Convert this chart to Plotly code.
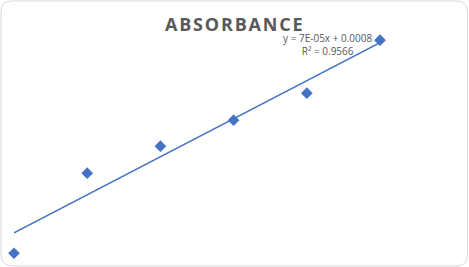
import numpy as np
import plotly.graph_objects as go

# Data
concentration = [0, 50, 100, 150, 200, 250]
absorbance = [-0.0011, 0.0063, 0.0088, 0.0112, 0.0137, 0.0186]
title_text = "ABSORBANCE"
equation_text = "y = 7E-05x + 0.0008<br>R² = 0.9566"

W, H = 469, 267
L, T = 14, 25
PW, PH = 366, 237.6
R = W - L - PW
B = H - T - PH

slope, intercept = np.polyfit(concentration, absorbance, 1)
x_fit = [min(concentration), max(concentration)]
y_fit = [slope * x + intercept for x in x_fit]

fig = go.Figure()
fig.add_trace(go.Scatter(x=x_fit, y=y_fit, mode="lines",
                         line=dict(color="#4472C4", width=1.5),
                         hoverinfo="skip", showlegend=False))
fig.add_trace(go.Scatter(x=concentration, y=absorbance, mode="markers",
                         marker=dict(symbol="diamond", size=9, color="#4472C4"),
                         cliponaxis=False, showlegend=False))

# rounded border in paper coords
def px(x):
    return (x - L) / PW
def py(y):
    return (T + PH - y) / PH
x0, y0, x1, y1, r = 1, 1, 467.5, 265.5, 11
path = (f"M {px(x0+r)},{py(y0)} L {px(x1-r)},{py(y0)} "
        f"Q {px(x1)},{py(y0)} {px(x1)},{py(y0+r)} "
        f"L {px(x1)},{py(y1-r)} Q {px(x1)},{py(y1)} {px(x1-r)},{py(y1)} "
        f"L {px(x0+r)},{py(y1)} Q {px(x0)},{py(y1)} {px(x0)},{py(y1-r)} "
        f"L {px(x0)},{py(y0+r)} Q {px(x0)},{py(y0)} {px(x0+r)},{py(y0)} Z")

spaced_title = "\u200a".join(title_text)

fig.update_layout(
    width=W, height=H,
    margin=dict(l=L, r=R, t=T, b=B),
    paper_bgcolor="white", plot_bgcolor="white",
    xaxis=dict(range=[0, 250], visible=False, fixedrange=True),
    yaxis=dict(range=[-0.002, 0.02], visible=False, fixedrange=True),
    shapes=[dict(type="path", xref="paper", yref="paper", path=path,
                 line=dict(color="#D9D9D9", width=1), layer="below")],
    annotations=[
        dict(text="<b>" + spaced_title + "</b>", xref="paper", yref="paper",
             x=px(234), y=py(24), xanchor="center", yanchor="middle",
             showarrow=False,
             font=dict(family="Open Sans", size=18, color="#595959")),
        dict(text=equation_text, xref="paper", yref="paper",
             x=px(327), y=py(44), xanchor="center", yanchor="middle",
             align="center", showarrow=False,
             font=dict(family="Open Sans", size=10, color="#595959")),
    ],
    hovermode=False,
)

fig.write_html("out.html")
